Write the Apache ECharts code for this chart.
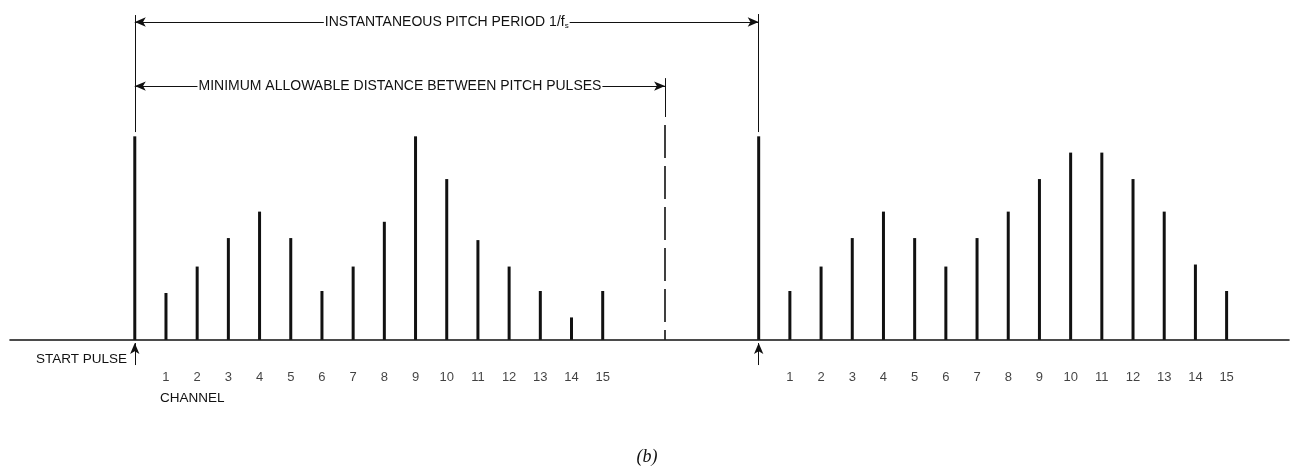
<!DOCTYPE html>
<html>
<head>
<meta charset="utf-8">
<script src="https://cdn.jsdelivr.net/npm/echarts@6.0.0/dist/echarts.min.js"></script>
<style>
  html, body { margin: 0; padding: 0; background: #fff; }
  #main { width: 1294px; height: 468px; }
</style>
</head>
<body>
<div id="main"></div>
<script>
// channel numbering under each pulse train
var channelLabels = ['1', '2', '3', '4', '5', '6', '7', '8', '9', '10', '11', '12', '13', '14', '15'];
// position of the channels on the time axis (one step = one channel slot)
var channelPos1 = [1, 2, 3, 4, 5, 6, 7, 8, 9, 10, 11, 12, 13, 14, 15];
var channelPos2 = [21, 22, 23, 24, 25, 26, 27, 28, 29, 30, 31, 32, 33, 34, 35];
var startPulsePos = [0, 20];
var startPulseAmp = [100, 100];
var minDistancePos = 17;
// channel amplitudes (start pulse = 100)
var frame1Amp = [23, 36, 50, 63, 50, 24, 36, 58, 100, 79, 49, 36, 24, 11, 24];
var frame2Amp = [24, 36, 50, 63, 50, 36, 50, 63, 79, 92, 92, 79, 63, 37, 24];

var ink = '#111';
var sans = '"Liberation Sans", Arial, sans-serif';
var numberRow = -18.6;   // where the channel numbers sit, in axis units

var pulses = [];
startPulsePos.forEach(function (p, i) { pulses.push([p, startPulseAmp[i]]); });
channelPos1.forEach(function (p, i) { pulses.push([p, frame1Amp[i]]); });
channelPos2.forEach(function (p, i) { pulses.push([p, frame2Amp[i]]); });

var numbers = [];
channelPos1.forEach(function (p, i) { numbers.push([p, numberRow, channelLabels[i]]); });
channelPos2.forEach(function (p, i) { numbers.push([p, numberRow, channelLabels[i]]); });

function seg(x1, y1, x2, y2, s1, s2) {
    return [
        { coord: [x1, y1], symbol: s1 || 'none' },
        { coord: [x2, y2], symbol: s2 || 'none' }
    ];
}

function dimLine(x1, x2, y, text) {
    var a = seg(x1, y, x2, y, 'arrow', 'arrow');
    a[0].label = {
        show: true,
        position: 'insideMiddle',
        formatter: text,
        backgroundColor: '#fff',
        padding: [2, 1],
        color: ink,
        fontFamily: sans,
        fontSize: 14,
        rich: {
            t: { fontFamily: sans, fontSize: 14, color: ink, lineHeight: 16 },
            s: { fontFamily: sans, fontSize: 8, color: ink, verticalAlign: 'bottom', lineHeight: 10 }
        }
    };
    return a;
}

var myChart = echarts.init(document.getElementById('main'));
myChart.setOption({
    animation: false,
    grid: { left: 10, right: 5, top: 0, bottom: 0, containLabel: false, outerBoundsMode: 'none' },
    xAxis: {
        type: 'value',
        min: -4,
        max: 37,
        interval: 1,
        axisLine: { onZero: true, lineStyle: { color: ink, width: 1.6 } },
        axisTick: { show: false },
        splitLine: { show: false },
        axisLabel: { show: false }
    },
    yAxis: {
        type: 'value',
        min: -63,
        max: 167,
        show: false
    },
    series: [
        {
            name: 'pulses',
            type: 'bar',
            barWidth: 3,
            itemStyle: { color: ink },
            data: pulses,
            markLine: {
                silent: true,
                symbol: 'none',
                symbolSize: [7, 11],
                lineStyle: { color: ink, width: 1, type: 'solid' },
                label: { show: false },
                data: [
                    dimLine(startPulsePos[0], startPulsePos[1], 156.2, '{t|INSTANTANEOUS PITCH PERIOD 1/f}{s|s}'),
                    dimLine(startPulsePos[0], minDistancePos, 124.7, 'MINIMUM ALLOWABLE DISTANCE BETWEEN PITCH PULSES'),
                    seg(startPulsePos[0], 102.1, startPulsePos[0], 159.6),
                    seg(startPulsePos[1], 102.1, startPulsePos[1], 160.1),
                    seg(minDistancePos, 109.5, minDistancePos, 128.6),
                    seg(startPulsePos[0], -12.4, startPulsePos[0], -1.6, 'none', 'arrow'),
                    seg(startPulsePos[1], -12.4, startPulsePos[1], -1.6, 'none', 'arrow'),
                    [
                        { coord: [minDistancePos, 105.6], symbol: 'none', lineStyle: { type: [33, 8], width: 1.6 } },
                        { coord: [minDistancePos, 0], symbol: 'none' }
                    ]
                ]
            }
        },
        {
            name: 'channel numbers',
            type: 'scatter',
            symbolSize: 0,
            silent: true,
            data: numbers,
            label: {
                show: true,
                position: 'inside',
                formatter: function (p) { return p.data[2]; },
                color: ink,
                fontFamily: sans,
                fontSize: 13
            }
        }
    ],
    graphic: [
        {
            type: 'text', x: 127, y: 359,
            style: { text: 'START PULSE', align: 'right', verticalAlign: 'middle', fill: ink, font: '13.5px ' + sans }
        },
        {
            type: 'text', x: 160, y: 398,
            style: { text: 'CHANNEL', align: 'left', verticalAlign: 'middle', fill: ink, font: '13.5px ' + sans }
        },
        {
            type: 'text', x: 647, y: 457,
            style: { text: '(b)', align: 'center', verticalAlign: 'middle', fill: ink, font: 'italic 18px "Liberation Serif", serif' }
        }
    ]
});
</script>
</body>
</html>
